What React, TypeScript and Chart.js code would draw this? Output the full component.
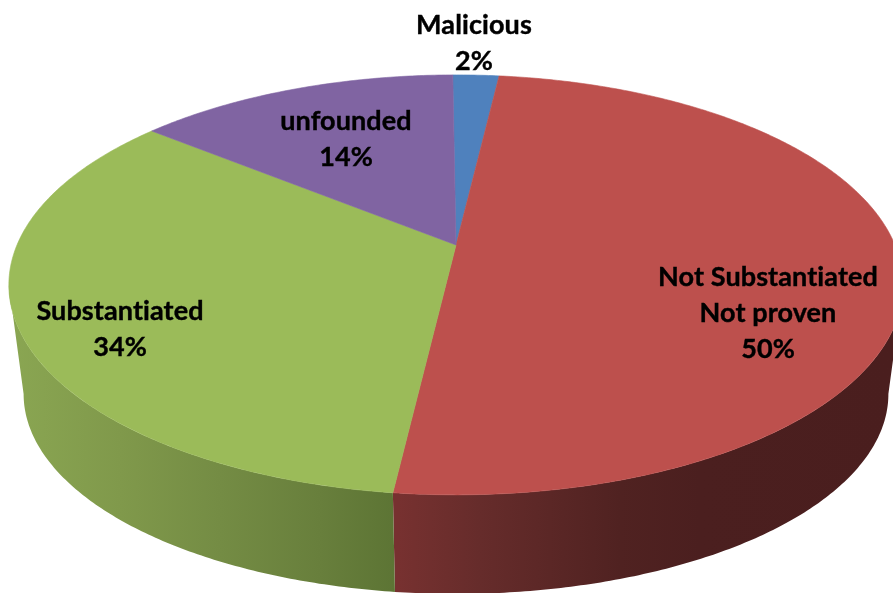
import React, { useEffect, useRef } from "react";
import { Chart, PieController, ArcElement } from "chart.js";

const categories = ["Malicious", "Not Substantiated\nNot proven", "Substantiated", "unfounded"];
const percentages = [2, 50, 34, 14];
const topColors = ["#4f81bd", "#bd504d", "#9bbb59", "#8064a2"];

// horizontal shading of the side wall: [canvas x, colour]
const wallShades: [number, string][][] = [
  [[0, "#4f81bd"], [893, "#4f81bd"]],
  [[398, "#773130"], [480, "#662c2b"], [620, "#502221"], [700, "#4b1f1f"], [893, "#4a1e1e"]],
  [[10, "#8aa652"], [120, "#80994b"], [220, "#748c44"], [320, "#687f3c"], [398, "#5c7434"]],
  [[0, "#8064a2"], [893, "#8064a2"]],
];

// perspective of the disc
const STRETCH_X = 439;
const STRETCH_Y = 202.4;
const TILT = 0.19;
const DEPTH_SCALE_X = 0.967;
const DEPTH_SCALE_Y = 0.952;
const DEPTH_Y = 111; // bottom rim's vertical shift relative to the apex

// label centres in the canvas
const labelCentres: [number, number][] = [[474, 43], [768, 313], [120, 329], [346, 139]];

function project(cx: number, cy: number, a: number, f = 1) {
  const u = Math.cos(a) * f;
  const v = Math.sin(a) * f;
  const w = 1 - TILT * v;
  return { x: cx + (STRETCH_X * u) / w, y: cy + (STRETCH_Y * v) / w };
}

class Arc3D extends ArcElement {
  static id = "arc3d";
  draw(ctx: CanvasRenderingContext2D) {
    const { x, y, startAngle, endAngle } = (this as any).getProps(["x", "y", "startAngle", "endAngle"]);
    const fill = (this as any).options.backgroundColor as string;
    const index = topColors.indexOf(fill);
    const steps = Math.max(2, Math.ceil((endAngle - startAngle) / 0.01));

    // side wall (only the part of the rim that faces the viewer)
    const front0 = Math.asin(TILT);
    const front1 = Math.PI - front0;
    const s = Math.max(startAngle, front0);
    const e = Math.min(endAngle, front1);
    if (e > s) {
      const n = Math.ceil((e - s) / 0.01);
      ctx.beginPath();
      for (let i = 0; i <= n; i++) {
        const p = project(x, y, s + ((e - s) * i) / n);
        if (i === 0) ctx.moveTo(p.x, p.y);
        else ctx.lineTo(p.x, p.y);
      }
      for (let i = n; i >= 0; i--) {
        const p = project(x, y, s + ((e - s) * i) / n);
        ctx.lineTo(x + (p.x - x) * DEPTH_SCALE_X, y + DEPTH_Y + (p.y - y) * DEPTH_SCALE_Y);
      }
      ctx.closePath();
      const g = ctx.createLinearGradient(0, 0, 893, 0);
      for (const [px, c] of wallShades[index]) g.addColorStop(px / 893, c);
      ctx.fillStyle = g;
      ctx.fill();
    }

    // top face
    ctx.beginPath();
    ctx.moveTo(x, y);
    for (let i = 0; i <= steps; i++) {
      const p = project(x, y, startAngle + ((endAngle - startAngle) * i) / steps);
      ctx.lineTo(p.x, p.y);
    }
    ctx.closePath();
    ctx.fillStyle = fill;
    ctx.strokeStyle = fill;
    ctx.lineWidth = 0.6;
    ctx.fill();
    ctx.stroke();
  }
}

class Pie3D extends PieController {
  static id = "pie3d";
  static defaults = { dataElementType: "arc3d" };
}

const labelPlugin = {
  id: "sliceLabels",
  afterDatasetsDraw(chart: Chart) {
    const { ctx } = chart;
    ctx.save();
    ctx.font = 'bold 27px Lato, "Open Sans", sans-serif';
    (ctx as any).letterSpacing = "0.1px";
    ctx.fillStyle = "#000000";
    ctx.strokeStyle = "#000000";
    ctx.lineWidth = 0.4;
    ctx.textAlign = "center";
    ctx.textBaseline = "middle";
    const values = chart.data.datasets[0].data as number[];
    (chart.data.labels as string[]).forEach((label, i) => {
      const lines = [...label.split("\n"), `${values[i]}%`];
      const [cx, cy] = labelCentres[i];
      lines.forEach((line, k) => {
        const ly = cy + (k - (lines.length - 1) / 2) * 36;
        ctx.fillText(line, cx, ly);
        ctx.strokeText(line, cx, ly);
      });
    });
    ctx.restore();
  },
};

Chart.register(ArcElement, Arc3D, PieController, Pie3D);

export default function App() {
  const ref = useRef<HTMLCanvasElement>(null);
  useEffect(() => {
    document.body.style.margin = "0";
    document.body.style.background = "#ffffff";
    const chart = new Chart(ref.current!, {
      type: "pie3d" as any,
      data: {
        labels: categories,
        datasets: [{ data: percentages, backgroundColor: topColors, borderWidth: 0 }],
      },
      options: {
        responsive: false,
        animation: false,
        events: [],
        rotation: -0.5,
        layout: { padding: { left: 19, top: 0, right: 0, bottom: 103 } },
        plugins: { legend: { display: false }, tooltip: { enabled: false } },
      } as any,
      plugins: [labelPlugin],
    });
    return () => chart.destroy();
  }, []);
  return (
    <canvas
      ref={ref}
      width={893}
      height={593}
      style={{ position: "absolute", left: 0, top: 0, width: 893, height: 593 }}
    />
  );
}
